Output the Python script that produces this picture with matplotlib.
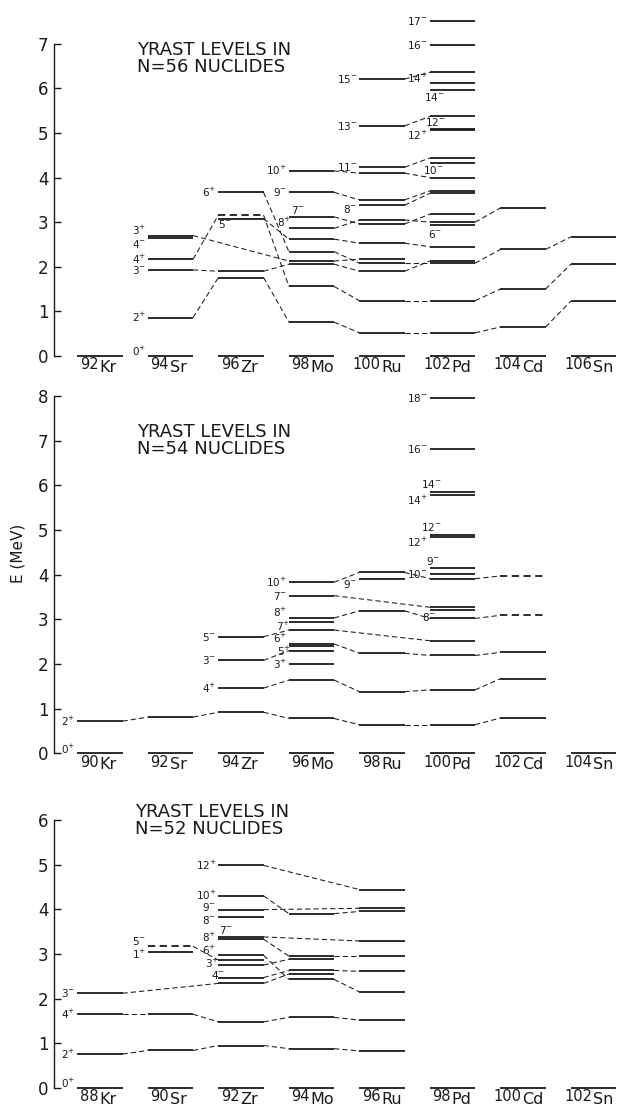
import matplotlib
matplotlib.use('Agg')
import matplotlib.pyplot as plt

N = None

elements = ['Kr', 'Sr', 'Zr', 'Mo', 'Ru', 'Pd', 'Cd', 'Sn']

# ---------------- N = 56 ----------------
masses_56 = [92, 94, 96, 98, 100, 102, 104, 106]
bands_56 = {
    '0+':  [0, 0, 0, 0, 0, 0, 0, 0],
    '2+':  [N, 0.86, 1.76, 0.76, 0.52, 0.52, 0.65, 1.23],
    '4+':  [N, 2.17, 3.16, 1.56, 1.24, 1.24, 1.50, 2.06],
    '6+':  [N, N, 3.67, 2.34, 2.08, 2.08, 2.39, 2.67],
    '3-':  [N, 1.93, 1.90, 2.06, 1.90, 2.13, N, N],
    '3+':  [N, 2.70, N, 2.13, 2.17, N, N, N],
    '4-':  [N, 2.64, N, N, N, N, N, N],
    '5-':  [N, N, 3.08, 2.62, 2.53, 2.45, N, N],
    '8+':  [N, N, N, 2.86, 3.05, 3.00, 3.32, N],
    '7-':  [N, N, N, 3.12, 2.96, 3.18, N, N],
    '6-':  [N, N, N, N, N, 2.93, N, N],
    '9-':  [N, N, N, 3.67, 3.50, 3.70, N, N],
    '8-':  [N, N, N, N, 3.38, 3.65, N, N],
    '10+': [N, N, N, 4.15, 4.10, 4.00, N, N],
    '11-': [N, N, N, N, 4.23, 4.44, N, N],
    '10-': [N, N, N, N, N, 4.32, N, N],
    '13-': [N, N, N, N, 5.16, 5.37, N, N],
    '12-': [N, N, N, N, N, 5.10, N, N],
    '12+': [N, N, N, N, N, 5.06, N, N],
    '15-': [N, N, N, N, 6.21, 6.36, N, N],
    '14+': [N, N, N, N, N, 6.12, N, N],
    '14-': [N, N, N, N, N, 5.97, N, N],
    '16-': [N, N, N, N, N, 6.98, N, N],
    '17-': [N, N, N, N, N, 7.50, N, N],
}
dashed_56 = [('4+', 2)]
labels_56 = [('0+', 1, '0+'), ('2+', 1, '2+'), ('3-', 1, '3-'), ('4+', 1, '4+'),
             ('4-', 1, '4-'), ('3+', 1, '3+'), ('6+', 2, '6+'), ('5-', 2, '5-'),
             ('8+', 3, '8+'), ('7-', 3, '7-'), ('9-', 3, '9-'), ('10+', 3, '10+'),
             ('8-', 4, '8-'), ('11-', 4, '11-'), ('13-', 4, '13-'), ('15-', 4, '15-'),
             ('6-', 5, '6-'), ('10-', 5, '10-'), ('12+', 5, '12+'), ('12-', 5, '12-'),
             ('14-', 5, '14-'), ('14+', 5, '14+'), ('16-', 5, '16-'), ('17-', 5, '17-')]

# ---------------- N = 54 ----------------
masses_54 = [90, 92, 94, 96, 98, 100, 102, 104]
bands_54 = {
    '0+':  [0, 0, 0, 0, 0, 0, 0, 0],
    '2+':  [0.72, 0.81, 0.92, 0.78, 0.64, 0.64, 0.79, N],
    '4+':  [N, N, 1.46, 1.64, 1.38, 1.42, 1.67, N],
    '3-':  [N, N, 2.08, 2.30, N, N, N, N],
    '5-':  [N, N, 2.61, 2.76, N, 2.52, N, N],
    '3+':  [N, N, N, 2.00, N, N, N, N],
    '5+':  [N, N, N, 2.40, N, N, N, N],
    '6+':  [N, N, N, 2.45, 2.24, 2.19, 2.26, N],
    '7+':  [N, N, N, 2.93, N, N, N, N],
    '8+':  [N, N, N, 3.03, 3.19, 3.02, 3.09, N],
    '7-':  [N, N, N, 3.53, N, 3.27, N, N],
    '8-':  [N, N, N, N, N, 3.21, N, N],
    'r9-': [N, N, N, N, 3.91, N, N, N],
    '10+': [N, N, N, 3.83, 4.05, 3.91, 3.97, N],
    '10-': [N, N, N, N, N, 4.01, N, N],
    '9-':  [N, N, N, N, N, 4.15, N, N],
    '12+': [N, N, N, N, N, 4.84, N, N],
    '12-': [N, N, N, N, N, 4.88, N, N],
    '14+': [N, N, N, N, N, 5.79, N, N],
    '14-': [N, N, N, N, N, 5.84, N, N],
    '16-': [N, N, N, N, N, 6.82, N, N],
    '18-': [N, N, N, N, N, 7.96, N, N],
}
dashed_54 = [('8+', 6), ('10+', 6)]
labels_54 = [('0+', 0, '0+'), ('2+', 0, '2+'), ('4+', 2, '4+'), ('3-', 2, '3-'),
             ('5-', 2, '5-'), ('3+', 3, '3+'), ('5+', 3, '5+'), ('6+', 3, '6+'),
             ('7+', 3, '7+'), ('8+', 3, '8+'), ('7-', 3, '7-'), ('10+', 3, '10+'),
             ('r9-', 4, '9-'), ('8-', 5, '8-'), ('10-', 5, '10-'), ('9-', 5, '9-'),
             ('12+', 5, '12+'), ('12-', 5, '12-'), ('14+', 5, '14+'), ('14-', 5, '14-'),
             ('16-', 5, '16-'), ('18-', 5, '18-')]

# ---------------- N = 52 ----------------
masses_52 = [88, 90, 92, 94, 96, 98, 100, 102]
bands_52 = {
    '0+':  [0, 0, 0, 0, 0, 0, 0, 0],
    '2+':  [0.76, 0.84, 0.95, 0.88, 0.83, N, N, N],
    '4+':  [1.65, 1.65, 1.48, 1.58, 1.52, N, N, N],
    '3-':  [2.12, N, 2.34, 2.55, N, N, N, N],
    '5-':  [N, N, 2.47, 2.63, 2.61, N, N, N],
    '5-b': [N, 3.17, 2.86, N, N, N, N, N],
    '1+':  [N, 3.04, N, N, N, N, N, N],
    '4-':  [N, N, 2.75, 2.88, N, N, N, N],
    '6+':  [N, N, 2.97, 2.43, 2.15, N, N, N],
    '8+':  [N, N, 3.33, 2.95, 2.95, N, N, N],
    '7-':  [N, N, 3.38, N, 3.29, N, N, N],
    '8-':  [N, N, 3.82, N, N, N, N, N],
    '9-':  [N, N, 3.99, N, 4.02, N, N, N],
    '10+': [N, N, 4.30, 3.90, 3.95, N, N, N],
    '12+': [N, N, 4.98, N, 4.44, N, N, N],
}
dashed_52 = [('5-b', 1)]
labels_52 = [('0+', 0, '0+'), ('2+', 0, '2+'), ('4+', 0, '4+'), ('3-', 0, '3-'),
             ('5-b', 1, '5-'), ('1+', 1, '1+'), ('4-', 2, '4-'), ('5-b', 2, '3+'),
             ('6+', 2, '6+'), ('8+', 2, '8+'), ('7-', 2, '7-'), ('8-', 2, '8-'),
             ('9-', 2, '9-'), ('10+', 2, '10+'), ('12+', 2, '12+')]

HW = 0.32          # half width of a level line (column units)
LC = '#1a1a1a'

# label nudges in points (dx, dy)
nudge = {
    (56, '0+', 1): (0, 3), (56, '3+', 1): (0, 4), (56, '4-', 1): (0, -4),
    (56, '5-', 2): (11, -4), (56, '7-', 3): (13, 5), (56, '8+', 3): (3, 4),
    (56, '8-', 4): (0, -3), (56, '14+', 5): (0, 3), (56, '14-', 5): (12, -5),
    (56, '12-', 5): (13, 4.5), (56, '12+', 5): (0, -4), (56, '10-', 5): (11, -5),
    (56, '6-', 5): (10, -6),
    (54, '0+', 0): (0, 3), (54, '6+', 3): (0, 4), (54, '5+', 3): (3, -4),
    (54, '8+', 3): (0, 4), (54, '7+', 3): (2, -3), (54, 'r9-', 4): (0, -4),
    (54, '9-', 5): (9, 5), (54, '8-', 5): (6, -5), (54, '12-', 5): (10, 6),
    (54, '12+', 5): (0, -4), (54, '14-', 5): (10, 6), (54, '14+', 5): (0, -4),
    (52, '0+', 0): (0, 3), (52, '5-b', 1): (0, 4), (52, '1+', 1): (0, -2),
    (52, '7-', 2): (12, 5), (52, '8+', 2): (0, 1), (52, '6+', 2): (0, 3.5),
    (52, '5-b', 2): (2, -2.5), (52, '4-', 2): (6, -7),
    (52, '9-', 2): (0, 2), (52, '8-', 2): (0, -2),
}


def spin_text(s):
    return s[:-1] + '$^{' + s[-1] + '}$'


def draw_panel(ax, pid, masses, bands, dashed, labels, ytop, ymax):
    for key, vals in bands.items():
        prev = None
        for i, e in enumerate(vals):
            if e is None:
                continue
            ls = (0, (4, 2.5)) if (key, i) in dashed else '-'
            ax.plot([i - HW, i + HW], [e, e], color=LC, lw=1.3, ls=ls,
                    solid_capstyle='butt', clip_on=False)
            if prev is not None and key != '0+':
                ax.plot([prev[0] + HW, i - HW], [prev[1], e], color=LC, lw=0.75,
                        ls=(0, (5, 3)), clip_on=False)
            prev = (i, e)

    for key, col, txt in labels:
        e = bands[key][col]
        dx, dy = nudge.get((pid, key, col), (0, 0))
        ax.annotate(spin_text(txt), (col - HW, e), xytext=(dx - 1.5, dy),
                    textcoords='offset points', ha='right', va='center',
                    fontsize=7.5, color=LC)

    for i, m in enumerate(masses):
        ax.annotate(str(m), (i - 0.02, 0), xytext=(0, -1), textcoords='offset points',
                    ha='right', va='top', fontsize=10.5, color=LC)
        ax.annotate(elements[i], (i - 0.02, 0), xytext=(0.5, -3), textcoords='offset points',
                    ha='left', va='top', fontsize=11.5, color=LC)

    ax.set_xlim(-0.652, 7.362)
    ax.set_ylim(0, ymax)
    for s in ['top', 'right', 'bottom']:
        ax.spines[s].set_visible(False)
    ax.spines['left'].set_bounds(0, ytop)
    ax.spines['left'].set_linewidth(1.0)
    ax.spines['left'].set_color(LC)
    ax.set_xticks([])
    ax.set_yticks(range(0, ytop + 1))
    ax.tick_params(axis='y', direction='in', length=5, width=1.0, pad=4,
                   labelsize=12, colors=LC)


W, H = 619, 1109
fig = plt.figure(figsize=(W / 100, H / 100), dpi=100)

panels = [
    # pid, masses, bands, dashed, labels, ytop, ymax, zero_px, px_per_mev
    (56, masses_56, bands_56, dashed_56, labels_56, 7, 7.8, 356.0, 44.6),
    (54, masses_54, bands_54, dashed_54, labels_54, 8, 8.1, 753.3, 44.66),
    (52, masses_52, bands_52, dashed_52, labels_52, 6, 6.1, 1088.0, 44.7),
]
for pid, masses, bands, dashed, labels, ytop, ymax, y0, sc in panels:
    ax = fig.add_axes([54 / W, (H - y0) / H, (W - 54) / W, ymax * sc / H])
    draw_panel(ax, pid, masses, bands, dashed, labels, ytop, ymax)

for x0, y0, n in [(137, 41, 56), (137, 423, 54), (135, 803, 52)]:
    fig.text(x0 / W, 1 - y0 / H, 'YRAST LEVELS IN\nN=%d NUCLIDES' % n, ha='left', va='top',
             fontsize=13, linespacing=0.95, color=LC)
fig.text(18 / W, 1 - 553 / H, 'E (MeV)', rotation=90, ha='center', va='center',
         fontsize=11, color=LC)

fig.savefig('out.png', dpi=100)
